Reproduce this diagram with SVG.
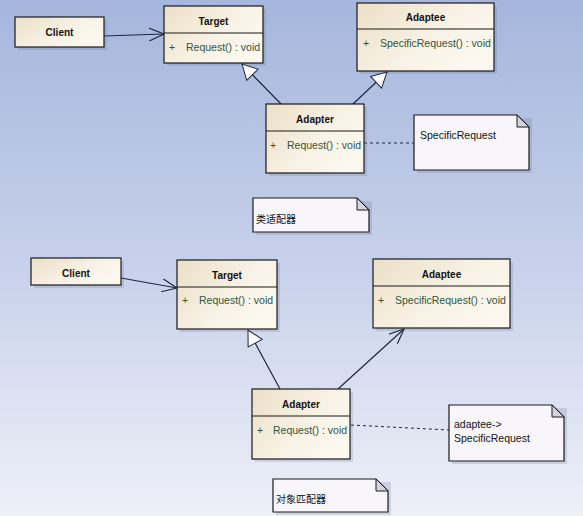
<svg xmlns="http://www.w3.org/2000/svg" width="583" height="516" viewBox="0 0 583 516">
<defs>
<linearGradient id="bg" x1="0" y1="0" x2="0" y2="1">
<stop offset="0" stop-color="#a6b6dc"/>
<stop offset="0.5" stop-color="#c6d0ea"/>
<stop offset="1" stop-color="#eef0f8"/>
</linearGradient>
<linearGradient id="cls" x1="0" y1="0" x2="1" y2="0.6">
<stop offset="0" stop-color="#ebdfc6"/>
<stop offset="0.6" stop-color="#f8f2e5"/>
<stop offset="1" stop-color="#fcf8ef"/>
</linearGradient>
<marker id="open" markerUnits="userSpaceOnUse" markerWidth="16" markerHeight="14" refX="15" refY="7" orient="auto">
<path d="M0,0.5 L15,7 L0,13.5" fill="none" stroke="#1e2740" stroke-width="1.2"/>
</marker>
<marker id="gen" markerUnits="userSpaceOnUse" markerWidth="17" markerHeight="18" refX="16" refY="9" orient="auto">
<path d="M1,1 L16,9 L1,17 Z" fill="#ffffff" stroke="#1e2740" stroke-width="1"/>
</marker>
</defs>
<style>
.box{fill:url(#cls);stroke:#1a1a1a;stroke-width:1.2}
.shd{fill:#5d6a86;opacity:0.2}
.note{fill:#f8f6fb;stroke:#1a1a1a;stroke-width:1.2}
.fold{fill:#d4d4dc;stroke:#1a1a1a;stroke-width:1}
.sep{stroke:#1a1a1a;stroke-width:1.2}
.ttl{font-family:"Liberation Sans",Arial,sans-serif;font-size:10px;font-weight:bold;fill:#111;text-anchor:middle}
.mem{font-family:"Liberation Sans",Arial,sans-serif;font-size:10.5px;fill:#30553c}
.plus{font-family:"Liberation Sans",Arial,sans-serif;font-size:10.5px;fill:#30553c}
.ntxt{font-family:"Liberation Sans",Arial,sans-serif;font-size:10.5px;fill:#111}
.cjk{font-family:"Liberation Sans","Noto Sans CJK SC",sans-serif;font-size:10px;fill:#111}
.ln{stroke:#1e2740;stroke-width:1.2;fill:none}
.dash{stroke:#1e2740;stroke-width:1;fill:none;stroke-dasharray:3,3}
</style>
<rect width="583" height="516" fill="url(#bg)"/>

<g id="connectors">
<line class="ln" x1="104" y1="36" x2="164" y2="34" marker-end="url(#open)"/>
<line class="ln" x1="281" y1="104" x2="242" y2="64" marker-end="url(#gen)"/>
<line class="ln" x1="353" y1="104" x2="387" y2="72" marker-end="url(#gen)"/>
<line class="dash" x1="364" y1="143" x2="414" y2="143"/>
<line class="ln" x1="121" y1="278" x2="177" y2="288" marker-end="url(#open)"/>
<line class="ln" x1="280" y1="389" x2="248" y2="330" marker-end="url(#gen)"/>
<line class="ln" x1="338" y1="389" x2="404" y2="329" marker-end="url(#open)"/>
<line class="dash" x1="351" y1="425" x2="449" y2="430"/>
</g>

<g id="client1">
<rect class="shd" x="18" y="20" width="89" height="30"/>
<rect class="box" x="15" y="17" width="89" height="30"/>
<text class="ttl" x="59.5" y="36">Client</text>
</g>

<g id="target1">
<rect class="shd" x="167" y="9" width="99" height="57"/>
<rect class="box" x="164" y="6" width="99" height="57"/>
<line class="sep" x1="164" y1="33" x2="263" y2="33"/>
<text class="ttl" x="213.5" y="25">Target</text>
<text class="plus" x="169" y="51">+</text>
<text class="mem" x="186" y="51">Request() : void</text>
</g>

<g id="adaptee1">
<rect class="shd" x="360" y="6" width="137" height="68"/>
<rect class="box" x="357" y="3" width="137" height="68"/>
<line class="sep" x1="357" y1="29" x2="494" y2="29"/>
<text class="ttl" x="425.5" y="21">Adaptee</text>
<text class="plus" x="363" y="47">+</text>
<text class="mem" x="380" y="47">SpecificRequest() : void</text>
</g>

<g id="adapter1">
<rect class="shd" x="269" y="107" width="98" height="69"/>
<rect class="box" x="266" y="104" width="98" height="69"/>
<line class="sep" x1="266" y1="131" x2="364" y2="131"/>
<text class="ttl" x="315" y="123">Adapter</text>
<text class="plus" x="270" y="149">+</text>
<text class="mem" x="287" y="149">Request() : void</text>
</g>

<g id="note1">
<rect class="shd" x="417" y="118" width="115" height="55"/>
<path class="note" d="M414,115 H517 L529,127 V170 H414 Z"/>
<path class="fold" d="M517,115 L529,127 H517 Z"/>
<text class="ntxt" x="420" y="139">SpecificRequest</text>
</g>

<g id="note-class-adapter">
<rect class="shd" x="256" y="201" width="116" height="34"/>
<path class="note" d="M253,198 H357 L369,210 V232 H253 Z"/>
<path class="fold" d="M357,198 L369,210 H357 Z"/>
<text class="cjk" x="256" y="223">类适配器</text>
</g>

<g id="client2">
<rect class="shd" x="34" y="261" width="90" height="27"/>
<rect class="box" x="31" y="258" width="90" height="27"/>
<text class="ttl" x="76" y="277">Client</text>
</g>

<g id="target2">
<rect class="shd" x="180" y="263" width="100" height="69"/>
<rect class="box" x="177" y="260" width="100" height="69"/>
<line class="sep" x1="177" y1="287" x2="277" y2="287"/>
<text class="ttl" x="227" y="279">Target</text>
<text class="plus" x="182" y="304">+</text>
<text class="mem" x="199" y="304">Request() : void</text>
</g>

<g id="adaptee2">
<rect class="shd" x="376" y="262" width="137" height="69"/>
<rect class="box" x="373" y="259" width="137" height="69"/>
<line class="sep" x1="373" y1="286" x2="510" y2="286"/>
<text class="ttl" x="441.5" y="278">Adaptee</text>
<text class="plus" x="378" y="304">+</text>
<text class="mem" x="395" y="304">SpecificRequest() : void</text>
</g>

<g id="adapter2">
<rect class="shd" x="255" y="392" width="98" height="70"/>
<rect class="box" x="252" y="389" width="98" height="70"/>
<line class="sep" x1="252" y1="416" x2="350" y2="416"/>
<text class="ttl" x="301" y="408">Adapter</text>
<text class="plus" x="257" y="434">+</text>
<text class="mem" x="273" y="434">Request() : void</text>
</g>

<g id="note2">
<rect class="shd" x="452" y="408" width="115" height="56"/>
<path class="note" d="M449,405 H552 L564,417 V461 H449 Z"/>
<path class="fold" d="M552,405 L564,417 H552 Z"/>
<text class="ntxt" x="454" y="428">adaptee-&gt;</text>
<text class="ntxt" x="454" y="442">SpecificRequest</text>
</g>

<g id="note-object-adapter">
<rect class="shd" x="276" y="482" width="115" height="33"/>
<path class="note" d="M273,479 H376 L388,491 V512 H273 Z"/>
<path class="fold" d="M376,479 L388,491 H376 Z"/>
<text class="cjk" x="276" y="503">对象匹配器</text>
</g>
</svg>
